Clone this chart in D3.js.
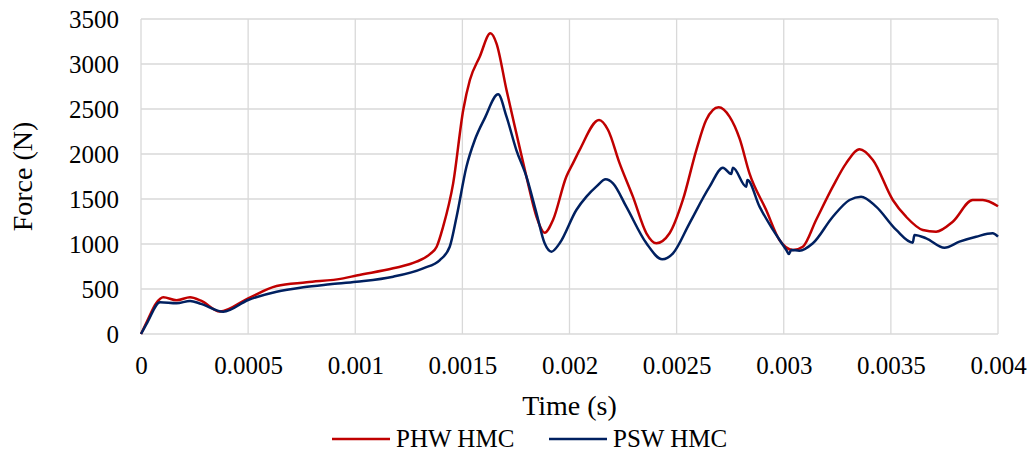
<!DOCTYPE html>
<html>
<head>
    <script src="https://cdnjs.cloudflare.com/ajax/libs/d3/7.8.5/d3.min.js"></script>
    <style>
      body { margin: 0; background: #fff; }
      svg text { font-family: "Liberation Serif", "Times New Roman", serif !important; fill: #000; }
    </style>
</head>
<body>
    <svg id="chart" width="1030" height="452"></svg>
    <script>
      // series (time in s, force in N)
      const phwTime = [0, 0.00003, 0.00007, 0.000104, 0.000166, 0.000229, 0.00028, 0.000368, 0.0005, 0.000633,
        0.000773, 0.000944, 0.001006, 0.001177, 0.001286, 0.00135, 0.00138, 0.00141, 0.001457, 0.001504,
        0.001535, 0.001581, 0.001631, 0.001659, 0.001706, 0.001752, 0.001799, 0.001846, 0.001884, 0.001923,
        0.001985, 0.002016, 0.002047, 0.002138, 0.00218, 0.002234, 0.002296, 0.002359, 0.002405, 0.002467,
        0.002529, 0.002592, 0.002638, 0.002696, 0.002747, 0.002794, 0.00284, 0.002918, 0.00298, 0.003043,
        0.003089, 0.003151, 0.003229, 0.003291, 0.003354, 0.003416, 0.003509, 0.003571, 0.003649, 0.003711,
        0.003789, 0.003882, 0.003929, 0.004]
      const phwForce = [0, 150, 340, 408, 375, 408, 370, 250, 397, 533,
        574, 618, 650, 730, 803, 890, 970, 1192, 1674, 2489,
        2822, 3081, 3341, 3230, 2711, 2230, 1748, 1303, 1126, 1267,
        1748, 1896, 2044, 2378, 2267, 1896, 1526, 1119, 1008, 1119,
        1489, 2044, 2378, 2519, 2415, 2170, 1785, 1378, 1044, 933,
        970, 1267, 1637, 1896, 2052, 1933, 1489, 1303, 1156, 1137,
        1248, 1489, 1489, 1420]

      const pswTime = [0, 0.00003, 0.0000886, 0.000166, 0.000229, 0.00028, 0.000384, 0.0005, 0.000633, 0.000757,
        0.000882, 0.001006, 0.001177, 0.001317, 0.001395, 0.001441, 0.001473, 0.001519, 0.001558, 0.001604,
        0.001667, 0.001706, 0.001752, 0.001799, 0.001846, 0.001884, 0.001916, 0.001954, 0.002032, 0.002079,
        0.002125, 0.002169, 0.002203, 0.002265, 0.002359, 0.002433, 0.002483, 0.00256, 0.002654, 0.002716,
        0.002755, 0.002763, 0.002825, 0.00283, 0.002887, 0.00295, 0.003012, 0.003024, 0.003035, 0.003073,
        0.003136, 0.003229, 0.003307, 0.003361, 0.003431, 0.003525, 0.003602, 0.00361, 0.003665, 0.00375,
        0.00382, 0.003898, 0.003975, 0.004]
      const pswForce = [0, 130, 352, 341, 367, 335, 248, 378, 470, 519,
        552, 581, 637, 730, 822, 970, 1303, 1859, 2156, 2396,
        2663, 2415, 2044, 1748, 1341, 1008, 915, 1008, 1378, 1526,
        1637, 1719, 1674, 1415, 1008, 830, 896, 1230, 1637, 1848,
        1778, 1848, 1637, 1711, 1415, 1156, 933, 889, 933, 926,
        1008, 1303, 1489, 1526, 1415, 1156, 1015, 1100, 1063, 959,
        1026, 1081, 1119, 1081]

      const xTicks = [0, 0.0005, 0.001, 0.0015, 0.002, 0.0025, 0.003, 0.0035, 0.004]
      const xTickLabels = ["0", "0.0005", "0.001", "0.0015", "0.002", "0.0025", "0.003", "0.0035", "0.004"]
      const yTicks = [0, 500, 1000, 1500, 2000, 2500, 3000, 3500]

      const seriesNames = ["PHW HMC", "PSW HMC"]
      const seriesColors = ["#c00000", "#002060"]

      const serif = 'Liberation Serif'

      const margin = { top: 19, right: 32, bottom: 118, left: 141 }
      const width = 1030 - margin.left - margin.right
      const height = 452 - margin.top - margin.bottom

      const svg = d3.select('#chart')
      const g = svg.append('g').attr('transform', `translate(${margin.left},${margin.top})`)

      const x = d3.scaleLinear().domain([0, 0.004]).range([0, width])
      const y = d3.scaleLinear().domain([0, 3500]).range([height, 0])

      // gridlines
      g.append('g').selectAll('line').data(yTicks).enter().append('line')
        .attr('x1', 0).attr('x2', width)
        .attr('y1', d => y(d)).attr('y2', d => y(d))
        .style('stroke', '#d9d9d9').style('stroke-width', '1.3px')
      g.append('g').selectAll('line').data(xTicks).enter().append('line')
        .attr('x1', d => x(d)).attr('x2', d => x(d))
        .attr('y1', 0).attr('y2', height)
        .style('stroke', '#d9d9d9').style('stroke-width', '1.3px')

      // axes (labels only, lines drawn by grid)
      const xAxis = g.append('g').attr('transform', `translate(0,${height})`)
        .call(d3.axisBottom(x).tickValues(xTicks).tickFormat((d, i) => xTickLabels[i]).tickSize(0).tickPadding(22))
      xAxis.attr('font-family', serif).attr('font-size', 25)
      xAxis.select('.domain').remove()
      xAxis.selectAll('text').attr('font-family', serif).style('font-size', '25px').style('fill', '#000')

      const yAxis = g.append('g')
        .call(d3.axisLeft(y).tickValues(yTicks).tickFormat(d3.format('d')).tickSize(0).tickPadding(22))
      yAxis.attr('font-family', serif).attr('font-size', 25)
      yAxis.select('.domain').remove()
      yAxis.selectAll('text').attr('font-family', serif).style('font-size', '25px').style('fill', '#000')

      // series
      const line = d3.line()
        .x(d => x(d[0]))
        .y(d => y(d[1]))
        .curve(d3.curveMonotoneX)

      const series = [
        d3.zip(phwTime, phwForce),
        d3.zip(pswTime, pswForce)
      ]

      g.selectAll('path.series').data(series).enter().append('path')
        .attr('class', 'series')
        .attr('d', line)
        .style('fill', 'none')
        .style('stroke', (d, i) => seriesColors[i])
        .style('stroke-width', '2.5px')
        .style('stroke-linejoin', 'round')

      // axis titles
      svg.append('text')
        .attr('x', margin.left + width / 2).attr('y', 415)
        .attr('text-anchor', 'middle')
        .style('font-size', '28px')
        .text('Time (s)')

      svg.append('text')
        .attr('transform', `translate(32,${margin.top + height / 2}) rotate(-90)`)
        .attr('text-anchor', 'middle')
        .style('font-size', '28px')
        .text('Force (N)')

      // legend
      const legendX = [332, 549]
      const legend = svg.append('g').selectAll('g').data(seriesNames).enter().append('g')
        .attr('transform', (d, i) => `translate(${legendX[i]},439)`)
      legend.append('line')
        .attr('x1', 0).attr('x2', 58).attr('y1', 0).attr('y2', 0)
        .style('stroke', (d, i) => seriesColors[i])
        .style('stroke-width', '2.5px')
      legend.append('text')
        .attr('x', 64).attr('y', 8)
        .style('font-size', '25px')
        .text(d => d)
    </script>
</body>
</html>
